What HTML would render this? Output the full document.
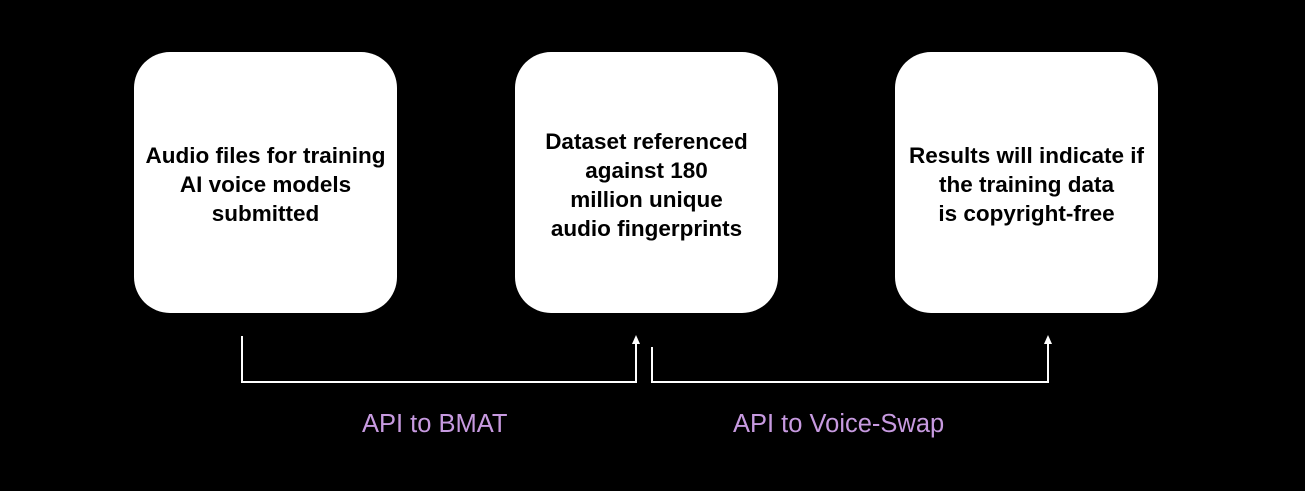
<!DOCTYPE html>
<html><head><style>
html,body{margin:0;padding:0;background:#000;width:1305px;height:491px;overflow:hidden;}
.box{position:absolute;top:52px;width:263px;height:261px;box-sizing:border-box;padding-top:4px;background:#fff;border-radius:36px;display:flex;align-items:center;justify-content:center;text-align:center;font-family:"Liberation Sans",sans-serif;font-weight:bold;font-size:22.5px;line-height:29px;color:#000;}
.lbl{position:absolute;top:410px;font-family:"Liberation Sans",sans-serif;font-size:25.5px;color:#c79ae0;}
</style></head><body>
<div class="box" style="left:134px"><div>Audio files for training<br>AI voice models<br>submitted</div></div>
<div class="box" style="left:515px"><div>Dataset referenced<br>against 180<br>million unique<br>audio fingerprints</div></div>
<div class="box" style="left:895px"><div>Results will indicate if<br>the training data<br>is copyright-free</div></div>
<svg style="position:absolute;left:0;top:0" width="1305" height="491">
<g stroke="#fff" stroke-width="2" fill="none">
<polyline points="242,336 242,382 636,382 636,342"/>
<polyline points="652,347 652,382 1048,382 1048,342"/>
</g>
<polygon points="636,335 632,344 640,344" fill="#fff"/>
<polygon points="1048,335 1044,344 1052,344" fill="#fff"/>
</svg>
<div class="lbl" style="left:362px">API to BMAT</div>
<div class="lbl" style="left:733px">API to Voice-Swap</div>
</body></html>
